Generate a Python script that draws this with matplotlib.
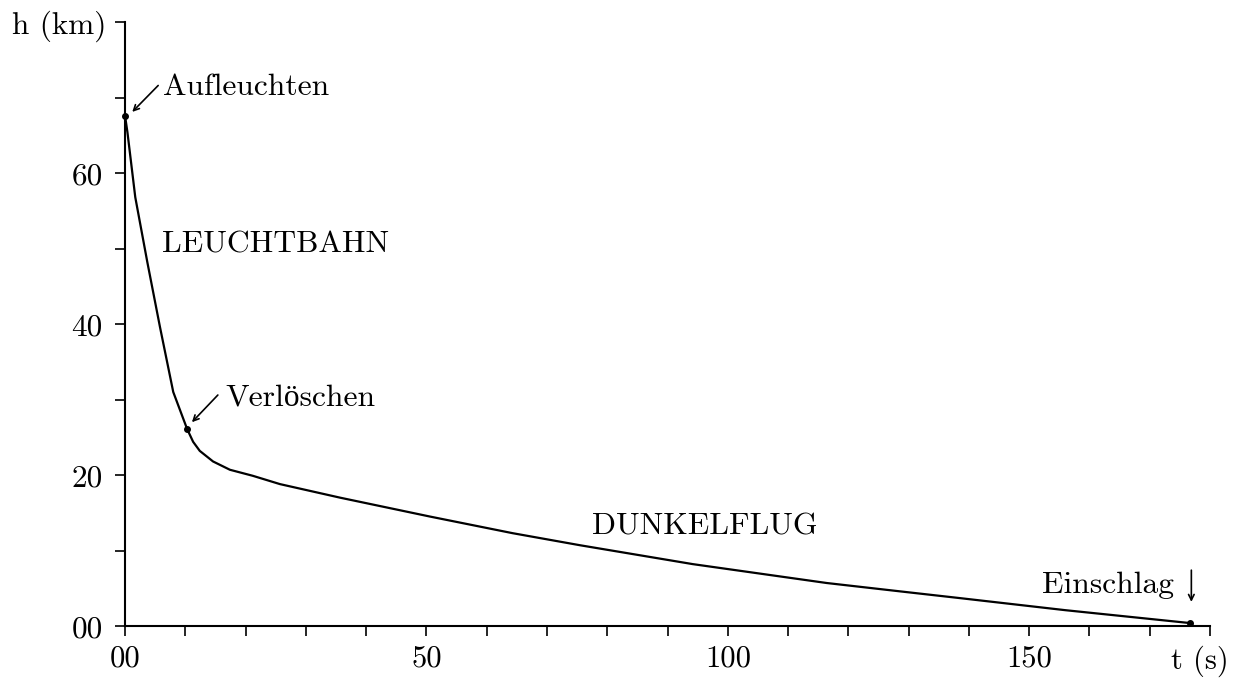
import matplotlib.pyplot as plt
import matplotlib.transforms as mtransforms
from matplotlib.ticker import MultipleLocator

# flight profile
t_s = [0, 0.4, 1.7, 3.7, 5.8, 6.9, 8.0, 10.3, 11.3, 12.4, 14.6, 17.4, 21.2,
       25.7, 35.7, 50.6, 64.3, 75.5, 94.2, 116.4, 128.5, 138.5, 156.0, 176.6]
h_km = [67.6, 65.4, 56.8, 48.2, 39.6, 35.3, 31.0, 26.1, 24.4, 23.2, 21.8, 20.7,
        19.9, 18.8, 17.0, 14.5, 12.3, 10.7, 8.2, 5.7, 4.6, 3.7, 2.1, 0.4]

# marked events
event_t = [0, 10.3, 176.6]
event_h = [67.6, 26.1, 0.4]

x_ticks = [0, 50, 100, 150, 180]
x_labels = ["00", "50", "100", "150", "t (s)"]
y_ticks = [0, 20, 40, 60, 80]
y_labels = ["00", "20", "40", "60", "h (km)"]

fam = ["cmr10", "Liberation Serif", "DejaVu Serif"]
plt.rcParams["font.family"] = fam

fig = plt.figure(figsize=(12.49, 6.79), dpi=100)
ax = fig.add_axes([0.1001, 0.078, 0.8687, 0.8895])

ax.plot(t_s, h_km, color="black", lw=1.6, solid_joinstyle="round")
ax.plot(event_t, event_h, "o", color="black", ms=4, clip_on=False)

ax.set_xlim(0, 180)
ax.set_ylim(0, 80)
ax.set_xticks(x_ticks)
ax.set_xticklabels(x_labels)
ax.set_yticks(y_ticks)
ax.set_yticklabels(y_labels)
ax.xaxis.set_minor_locator(MultipleLocator(10))
ax.yaxis.set_minor_locator(MultipleLocator(10))
ax.tick_params(axis="both", which="both", direction="out", length=7, width=1.2)
ax.tick_params(axis="x", which="major", labelsize=22, pad=7)
ax.tick_params(axis="y", which="major", labelsize=22.5, pad=9)

# the axis names sit a bit inward so they stay on the page
shift = mtransforms.ScaledTranslation(-10 / 100, 0, fig.dpi_scale_trans)
lab = ax.get_xticklabels()[-1]
lab.set_transform(lab.get_transform() + shift)
shift_y = mtransforms.ScaledTranslation(4 / 100, 0, fig.dpi_scale_trans)
lab = ax.get_yticklabels()[-1]
lab.set_transform(lab.get_transform() + shift_y)

for side in ["top", "right"]:
    ax.spines[side].set_visible(False)
for side in ["left", "bottom"]:
    ax.spines[side].set_linewidth(1.5)

fs = 22.7
arrow = dict(arrowstyle="->", color="black", lw=1.2, shrinkA=0, shrinkB=0)
ax.annotate("", xy=(1.2, 68.1), xytext=(5.5, 71.6), arrowprops=arrow)
ax.text(6.3, 71.3, "Aufleuchten", fontsize=fs, va="center", ha="left", family=fam)
ax.annotate("", xy=(11.1, 27.0), xytext=(15.4, 30.6), arrowprops=arrow)
ax.text(16.6, 30.2, "Verlöschen", fontsize=fs, va="center", ha="left", family=fam)
ax.text(6.1, 50.5, "LEUCHTBAHN", fontsize=fs, va="center", ha="left", family=fam)
ax.text(77.4, 13.1, "DUNKELFLUG", fontsize=fs, va="center", ha="left", family=fam)
ax.text(152.2, 5.4, "Einschlag", fontsize=fs, va="center", ha="left", family=fam)
ax.annotate("", xy=(176.9, 3.2), xytext=(176.9, 7.4), arrowprops=arrow)

plt.savefig("out.png", dpi=100)
plt.close()
